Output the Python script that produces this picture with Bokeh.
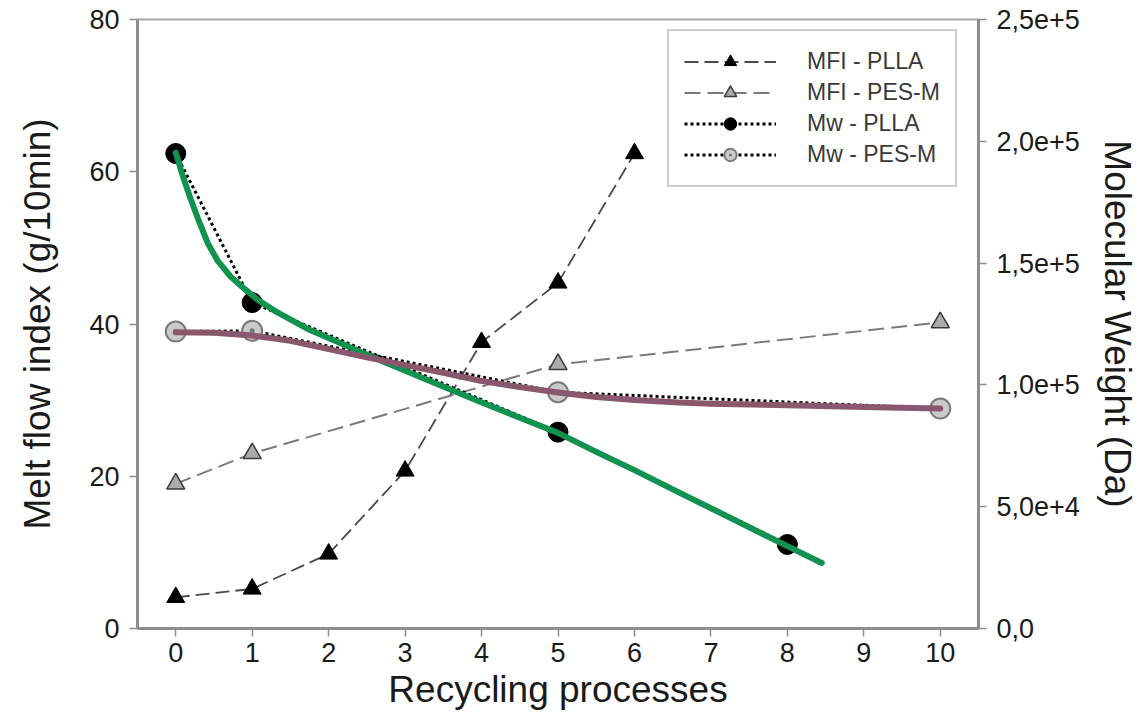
from bokeh.plotting import figure
from bokeh.models import Range1d, LinearAxis, FixedTicker, Legend, LegendItem
from bokeh.embed import file_html
from bokeh.resources import INLINE

# ---------------- data ----------------
x_mfi_plla = [0, 1, 2, 3, 4, 5, 6]
mfi_plla = [4.1, 5.2, 9.8, 20.7, 37.6, 45.4, 62.4]

x_mfi_pes = [0, 1, 5, 10]
mfi_pes = [19.0, 23.0, 34.7, 40.2]

x_mw_plla = [0, 1, 5, 8]
mw_plla = [195000, 133800, 80600, 34500]

x_mw_pes = [0, 1, 5, 10]
mw_pes = [121900, 122200, 97000, 90300]

# fitted trend curves
fit_plla_x = [0, 0.1, 0.2, 0.3, 0.42, 0.55, 0.72, 0.9, 1.07, 1.3, 1.72, 2.15,
              2.58, 3.3, 3.98, 4.6, 5.0, 5.5, 6.0, 6.58, 7.3, 7.98, 8.45]
fit_plla_mw = [195300, 185000, 175900, 167500, 158100, 150900, 144400, 139400,
               135000, 130300, 123100, 117200, 111300, 101900, 93100, 85300,
               80300, 72500, 65000, 55900, 44700, 34100, 26900]

fit_pes_x = [0, 0.5, 1.0, 1.5, 2.0, 2.5, 3.0, 3.5, 4.0, 4.5, 5.0, 5.5, 6.0, 6.58,
             7.0, 8.0, 9.0, 10.0]
fit_pes_mw = [121600, 121400, 120300, 118100, 114700, 111300, 108100, 105000,
              101600, 99100, 96900, 95000, 93800, 92800, 92300, 91600, 90900, 90300]

x_ticks = [0, 1, 2, 3, 4, 5, 6, 7, 8, 9, 10]
mfi_ticks = [0, 20, 40, 60, 80]
mw_ticks = [0, 50000, 100000, 150000, 200000, 250000]
mw_tick_labels = ["0,0", "5,0e+4", "1,0e+5", "1,5e+5", "2,0e+5", "2,5e+5"]

legend_labels = ["MFI - PLLA", "MFI - PES-M", "Mw - PLLA", "Mw - PES-M"]

# ---------------- figure ----------------
FONT = "Liberation Sans"
AXIS_COL = "#8e8e8e"
TXT_COL = "#1a1a1a"

p = figure(width=1140, height=720,
           x_range=Range1d(-0.5, 10.5), y_range=Range1d(0, 80),
           output_backend="svg", toolbar_location=None,
           min_border_left=137, min_border_right=160,
           min_border_top=19, min_border_bottom=92)
p.extra_y_ranges = {"mw": Range1d(0, 250000)}
p.grid.visible = False
p.outline_line_color = "#a5a5a5"
p.outline_line_width = 2
p.background_fill_color = "white"
p.border_fill_color = "white"

def style_axis(ax):
    ax.axis_line_color = AXIS_COL
    ax.axis_line_width = 3
    ax.major_tick_line_color = AXIS_COL
    ax.major_tick_line_width = 1.5
    ax.major_tick_out = 8
    ax.major_tick_in = 0
    ax.minor_tick_line_color = None
    ax.major_label_text_font = FONT
    ax.major_label_text_font_size = "27px"
    ax.major_label_text_color = TXT_COL
    ax.axis_label_text_font = FONT
    ax.axis_label_text_font_size = "37px"
    ax.axis_label_text_font_style = "normal"
    ax.axis_label_text_color = TXT_COL

xa = p.xaxis[0]
style_axis(xa)
xa.ticker = FixedTicker(ticks=x_ticks)
xa.axis_label = "Recycling processes"
xa.major_label_standoff = 6
xa.axis_label_standoff = 4

ya = p.yaxis[0]
style_axis(ya)
ya.ticker = FixedTicker(ticks=mfi_ticks)
ya.axis_label = "Melt flow index (g/10min)"
ya.major_label_standoff = 10
ya.axis_label_standoff = 28

ra = LinearAxis(y_range_name="mw")
style_axis(ra)
ra.ticker = FixedTicker(ticks=mw_ticks)
ra.major_label_overrides = {v: s for v, s in zip(mw_ticks, mw_tick_labels)}
ra.axis_label = "Molecular Weight (Da)"
ra.major_label_standoff = 10
ra.axis_label_standoff = 14
p.add_layout(ra, "right")

# ---------------- series ----------------
l1 = p.line(x_mfi_plla, mfi_plla, line_color="#4a4a4a", line_width=1.8, line_dash="14 6")
m1 = p.scatter(x_mfi_plla, mfi_plla, marker="triangle", size=18,
               fill_color="black", line_color="black", line_width=1)

l2 = p.line(x_mfi_pes, mfi_pes, line_color="#7a7a7a", line_width=2, line_dash="16 7")
m2 = p.scatter(x_mfi_pes, mfi_pes, marker="triangle", size=18,
               fill_color="#ababab", line_color="#3a3a3a", line_width=1.5)

l3 = p.line(x_mw_plla, mw_plla, y_range_name="mw", line_color="black",
            line_width=3, line_dash="3 3")
m3 = p.scatter(x_mw_plla, mw_plla, y_range_name="mw", marker="circle", size=20,
               fill_color="black", line_color="black")

l4 = p.line(x_mw_pes, mw_pes, y_range_name="mw", line_color="black",
            line_width=3, line_dash="3 3")
m4 = p.scatter(x_mw_pes, mw_pes, y_range_name="mw", marker="circle_dot", size=20,
               fill_color="#cacaca", line_color="#7a7a7a", line_width=2)

# trend curves on top
p.line(fit_plla_x, fit_plla_mw, y_range_name="mw", line_color="#12924f",
       line_width=6, line_cap="round", line_join="round")
p.line(fit_pes_x, fit_pes_mw, y_range_name="mw", line_color="#8a586d",
       line_width=6, line_cap="round", line_join="round")

legend = Legend(items=[
    LegendItem(label=legend_labels[0], renderers=[l1, m1]),
    LegendItem(label=legend_labels[1], renderers=[l2, m2]),
    LegendItem(label=legend_labels[2], renderers=[l3, m3]),
    LegendItem(label=legend_labels[3], renderers=[l4, m4]),
], location=(530, 441))
legend.glyph_width = 92
legend.glyph_height = 31
legend.label_height = 31
legend.spacing = 0
legend.padding = 15
legend.label_standoff = 31
legend.label_text_font = FONT
legend.label_text_font_size = "23px"
legend.label_text_color = "#3a3a3a"
legend.border_line_color = "#9a9a9a"
legend.border_line_width = 2
legend.background_fill_alpha = 1
p.add_layout(legend)

open("out.html", "w").write(file_html(p, INLINE))
